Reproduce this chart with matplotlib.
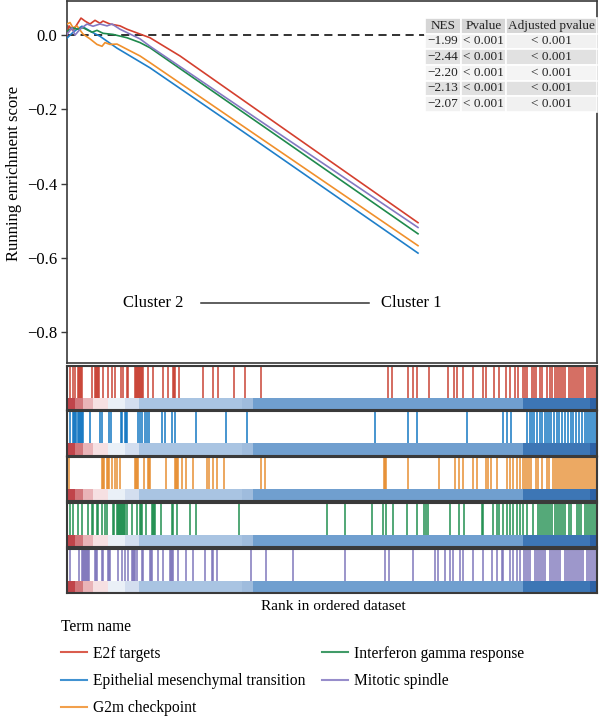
import matplotlib.pyplot as plt
from matplotlib.lines import Line2D

plt.rcParams['font.family'] = ['Liberation Serif', 'DejaVu Serif']

# term names and colours
terms = ['E2f targets', 'Epithelial mesenchymal transition', 'G2m checkpoint',
         'Interferon gamma response', 'Mitotic spindle']
line_colors = ['#d4402f', '#1f7fc9', '#f0902c', '#1f8a4d', '#8579c2']
bar_colors = ['#c63b2c', '#0a72c0', '#e68a2a', '#178a48', '#7a72b8']

# running enrichment score (rank, score)
red_x = [0, 2, 6, 14, 18, 23, 28, 33, 36, 43, 53, 60, 73, 83, 113, 220, 351]
red_y = [0.0, 0.025, 0.012, 0.046, 0.038, 0.03, 0.04, 0.032, 0.038, 0.03, 0.025,
         0.016, 0.003, -0.007, -0.056, -0.258, -0.505]
blue_x = [0, 5, 10, 15, 20, 25, 33, 50, 83, 175, 351]
blue_y = [-0.008, 0.005, 0.016, 0.024, 0.016, 0.008, -0.003, -0.035, -0.088, -0.258, -0.587]
orange_x = [0, 3, 6, 10, 16, 23, 30, 35, 38, 43, 50, 60, 73, 83, 183, 351]
orange_y = [0.03, 0.034, 0.02, 0.025, 0.003, -0.01, -0.025, -0.03, -0.02, -0.025,
            -0.024, -0.038, -0.056, -0.074, -0.258, -0.567]
green_x = [0, 5, 11, 16, 25, 30, 36, 46, 60, 73, 83, 203, 351]
green_y = [0.01, 0.02, 0.016, 0.02, 0.008, 0.013, 0.005, 0.002, -0.007, -0.02,
           -0.034, -0.258, -0.535]
purple_x = [0, 5, 8, 13, 20, 26, 33, 40, 45, 53, 63, 73, 83, 208, 351]
purple_y = [0.002, 0.02, 0.0, 0.016, 0.03, 0.024, 0.03, 0.025, 0.03, 0.016, 0.003,
            -0.01, -0.03, -0.258, -0.518]
curves = [(red_x, red_y), (blue_x, blue_y), (orange_x, orange_y),
          (green_x, green_y), (purple_x, purple_y)]

# gene set hits (rank positions)
red_hits = [3, 6, 8, 11, 12, 13, 14, 15, 25, 28, 29, 30, 31, 32, 36, 41, 45, 48, 54, 56,
            60, 61, 68, 69, 70, 71, 72, 73, 74, 75, 76, 81, 86, 96, 101, 106, 107, 108,
            112, 136, 146, 151, 167, 178, 194, 321, 325, 341, 346, 350, 362, 381, 387,
            390, 396, 406, 416, 419, 427, 432, 439, 443, 448, 451,
            456, 458, 460, 465, 467, 469, 473, 475, 480, 483, 485, 488, 490, 492, 494,
            496, 498, 502, 504, 506, 508, 510, 512, 514, 516, 520, 522, 524, 526, 528, 530]
blue_hits = [3, 6, 7, 8, 9, 11, 12, 13, 14, 15, 16, 23, 33, 35, 42, 44, 54, 55, 58, 59,
             60, 71, 73, 75, 78, 80, 82, 95, 98, 105, 108, 129, 159, 180, 308, 341, 350,
             400, 436, 440, 444,
             460, 463, 465, 467, 470, 473, 475, 478, 480, 482, 484, 487, 490, 492, 495,
             498, 501, 504, 506, 509, 512, 515, 518, 520, 522, 524, 526, 528, 530]
orange_hits = [2, 35, 36, 37, 40, 41, 42, 45, 48, 50, 53, 68, 69, 70, 71, 77, 81, 82, 83,
               99, 108, 109, 110, 111, 115, 119, 126, 140, 142, 146, 150, 157, 194, 198,
               317, 318, 319, 341, 372, 388, 392, 396, 406, 410, 419, 421, 424, 430, 440,
               443, 446, 450, 453,
               456, 458, 460, 462, 464, 469, 471, 475, 480, 482, 486, 488, 490, 492, 494,
               496, 498, 500, 502, 504, 506, 508, 510, 512, 514, 516, 518, 520, 522, 524,
               526, 528, 530]
green_hits = [3, 6, 11, 15, 21, 25, 26, 30, 31, 35, 38, 40, 46, 47, 50, 51, 52, 53, 54, 55,
              56, 57, 58, 60, 65, 70, 73, 74, 75, 79, 85, 86, 87, 88, 94, 105, 106, 110,
              123, 129, 172, 260, 278, 305, 316, 319, 326, 340, 350, 357, 359, 361, 383,
              392, 397, 415, 416, 426, 430, 432, 436, 440, 443, 446, 450, 453, 456, 460,
              466,
              471, 473, 475, 477, 479, 481, 483, 485, 488, 490, 492, 494, 496, 498, 502,
              504, 510, 512, 514, 518, 520, 522, 524, 526, 528, 530]
purple_hits = [3, 12, 15, 16, 17, 18, 19, 20, 21, 22, 28, 29, 30, 35, 36, 41, 42, 43, 51,
               55, 58, 61, 65, 66, 67, 68, 70, 75, 76, 83, 84, 85, 91, 96, 103, 104, 105,
               106, 111, 119, 126, 138, 145, 146, 150, 184, 199, 226, 278, 318, 322, 346,
               368, 371, 378, 383, 386, 393, 396, 406, 416, 425, 430, 435, 436, 443, 446,
               450, 453,
               457, 459, 461, 463, 468, 470, 472, 474, 476, 478, 483, 485, 487, 489, 491,
               493, 498, 500, 502, 504, 506, 508, 510, 512, 514, 516, 520, 522, 524, 526,
               528, 530]
hits = [red_hits, blue_hits, orange_hits, green_hits, purple_hits]

# ranked list colour strip
strip_edges = [0, 8, 16, 26, 41, 58, 72, 175, 186, 456, 523, 530]
strip_colors = ['#c0444a', '#d2777c', '#e9b4b8', '#f6e0e2', '#eaf0f7', '#d3deef',
                '#a9c4e2', '#9fbcdd', '#709fcf', '#3d76b5', '#2d62a6']

# statistics table
nes = ['\u22121.99', '\u22122.44', '\u22122.20', '\u22122.13', '\u22122.07']
pvals = ['< 0.001'] * 5
padj = ['< 0.001'] * 5

n_rank = 530
frame = '#3a3a3a'

fig = plt.figure(figsize=(6, 7.18), dpi=100)
H = 718.0

ax = fig.add_axes([67 / 600, 1 - 363 / H, 530 / 600, 362 / H])
for (xs, ys), c in zip(curves, line_colors):
    ax.plot(xs, ys, color=c, lw=1.2, zorder=3)
ax.axhline(0, color='#222222', lw=1.3, ls=(0, (4.5, 3)), zorder=1)
ax.set_xlim(0, n_rank)
ax.set_ylim(-0.883, 0.092)
ax.set_yticks([0.0, -0.2, -0.4, -0.6, -0.8])
ax.set_yticklabels(['0.0', '\u22120.2', '\u22120.4', '\u22120.6', '\u22120.8'])
ax.set_xticks([])
ax.tick_params(axis='y', labelsize=12, length=4, width=1, color=frame, pad=3)
for s in ax.spines.values():
    s.set_color(frame)
    s.set_linewidth(1.2)
ax.set_ylabel('Running enrichment score', fontsize=12)
ax.yaxis.set_label_coords(-0.084, 0.525)

ax.text(86, -0.722, 'Cluster 2', ha='center', va='center', fontsize=12)
ax.text(344, -0.722, 'Cluster 1', ha='center', va='center', fontsize=12)
ax.plot([134, 302], [-0.722, -0.722], color='#333333', lw=1.1)

cell_text = [[a, b, c] for a, b, c in zip(nes, pvals, padj)]
row_bg = ['#f1f1f1', '#e1e1e1', '#f4f4f4', '#e1e1e1', '#f1f1f1']
tab = ax.table(cellText=cell_text, colLabels=['NES', 'Pvalue', 'Adjusted pvalue'],
               bbox=[0.675, 0.694, 0.325, 0.259], colWidths=[0.21, 0.26, 0.53],
               cellLoc='center', zorder=5)
tab.auto_set_font_size(False)
for (r, c), cell in tab.get_celld().items():
    cell.set_edgecolor('white')
    cell.set_linewidth(1.2)
    cell.PAD = 0.02
    cell.set_text_props(fontsize=9.5, color='#222222')
    if r == 0:
        cell.set_facecolor('#d6d6d6')
    else:
        cell.set_facecolor(row_bg[r - 1])

panel_tops = [366, 411.5, 457, 503, 549]
for i, top in enumerate(panel_tops):
    bx = fig.add_axes([67 / 600, 1 - (top + 44) / H, 530 / 600, 44 / H])
    bx.vlines(hits[i], 0.28, 1, color=bar_colors[i], lw=1.2, alpha=0.88)
    lefts = strip_edges[:-1]
    widths = [b - a for a, b in zip(strip_edges[:-1], strip_edges[1:])]
    bx.barh(0.14, widths, left=lefts, height=0.28, color=strip_colors, lw=0)
    bx.set_xlim(0, n_rank)
    bx.set_ylim(0, 1)
    bx.set_xticks([])
    bx.set_yticks([])
    for s in bx.spines.values():
        s.set_color(frame)
        s.set_linewidth(1.5)

fig.text(333 / 600, 1 - 606 / H, 'Rank in ordered dataset', ha='center', va='center',
         fontsize=11)

handles = [Line2D([0], [0], color=c, lw=1.5, alpha=0.85) for c in line_colors]
leg = fig.legend(handles, terms, loc='upper left', bbox_to_anchor=(0.078, 0.158),
                 ncol=2, frameon=False, title='Term name', fontsize=11.2,
                 title_fontsize=11.2, handlelength=1.7, handletextpad=0.4,
                 columnspacing=1.0, labelspacing=0.72, alignment='left')

fig.savefig('out.png', dpi=100)
